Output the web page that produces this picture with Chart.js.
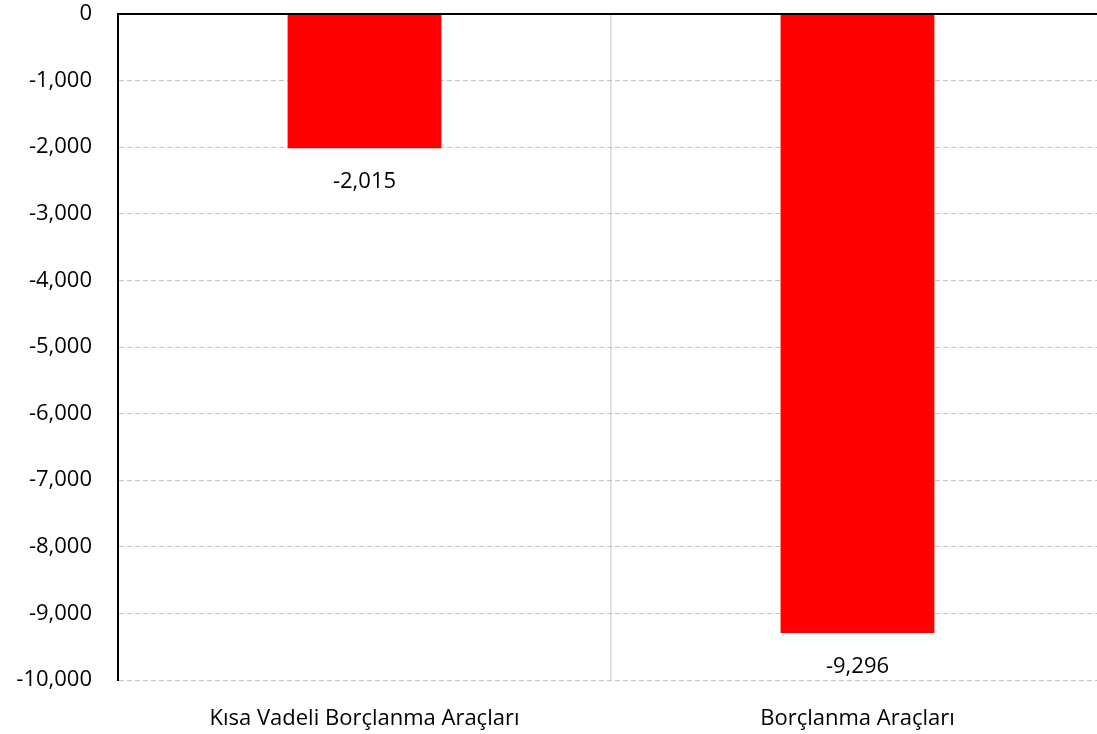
<!DOCTYPE html>
<html>
<head>
<meta charset="utf-8">
<script src="https://cdn.jsdelivr.net/npm/chart.js@4/dist/chart.umd.min.js"></script>
<style>
  html, body { margin: 0; padding: 0; overflow: hidden; background: #fff; }
  #wrap { width: 1104px; height: 734px; position: relative; }
</style>
</head>
<body>
<div id="wrap"><canvas id="chart"></canvas></div>
<script>
// data
const categories = ["Kısa Vadeli Borçlanma Araçları", "Borçlanma Araçları"];
const values = [-2015, -9296];
const yMin = -10000;
const yMax = 0;
const yStep = 1000;

const fmt = (v) => v.toLocaleString("en-US");
const FONT = "'Open Sans', sans-serif";

// value labels under each bar
const barLabels = {
  id: "barLabels",
  afterDatasetsDraw(chart) {
    const { ctx } = chart;
    const meta = chart.getDatasetMeta(0);
    ctx.save();
    ctx.font = "22px " + FONT;
    ctx.fillStyle = "#000";
    ctx.textAlign = "center";
    ctx.textBaseline = "middle";
    meta.data.forEach((bar, i) => {
      ctx.fillText(fmt(values[i]), bar.x, bar.y + 34);
    });
    ctx.restore();
  },
};

new Chart(document.getElementById("chart"), {
  type: "bar",
  data: {
    labels: categories,
    datasets: [
      {
        data: values,
        backgroundColor: "#ff0000",
        borderWidth: 0,
        barPercentage: 0.312,
        categoryPercentage: 1,
      },
    ],
  },
  options: {
    responsive: true,
    maintainAspectRatio: false,
    animation: false,
    layout: { padding: 0 },
    plugins: {
      legend: { display: false },
      tooltip: { enabled: false },
    },
    scales: {
      x: {
        offset: true,
        grid: { color: "#d9d9d9", lineWidth: 1.5, drawTicks: false },
        border: { display: false },
        ticks: {
          color: "#000",
          font: { family: FONT, size: 22 },
          padding: 26,
          maxRotation: 0,
        },
        afterFit(scale) {
          scale.height = 54;
        },
      },
      y: {
        min: yMin,
        max: yMax,
        grid: {
          color: (c) => (c.tick && c.tick.value === 0 ? "#000" : "#c0c0c0"),
          lineWidth: (c) => (c.tick && c.tick.value === 0 ? 2 : 1),
          drawTicks: false,
        },
        border: {
          display: true,
          color: "#000",
          width: 2,
          dash: (c) => (c.tick && c.tick.value === 0 ? [] : [5, 3]),
        },
        ticks: {
          stepSize: yStep,
          color: "#000",
          font: { family: FONT, size: 22 },
          padding: 26,
          callback: (v) => fmt(v),
        },
        afterFit(scale) {
          scale.width = 118;
          scale.paddingTop = 14;
          scale.paddingBottom = 0;
        },
      },
    },
  },
  plugins: [barLabels],
});
</script>
</body>
</html>
